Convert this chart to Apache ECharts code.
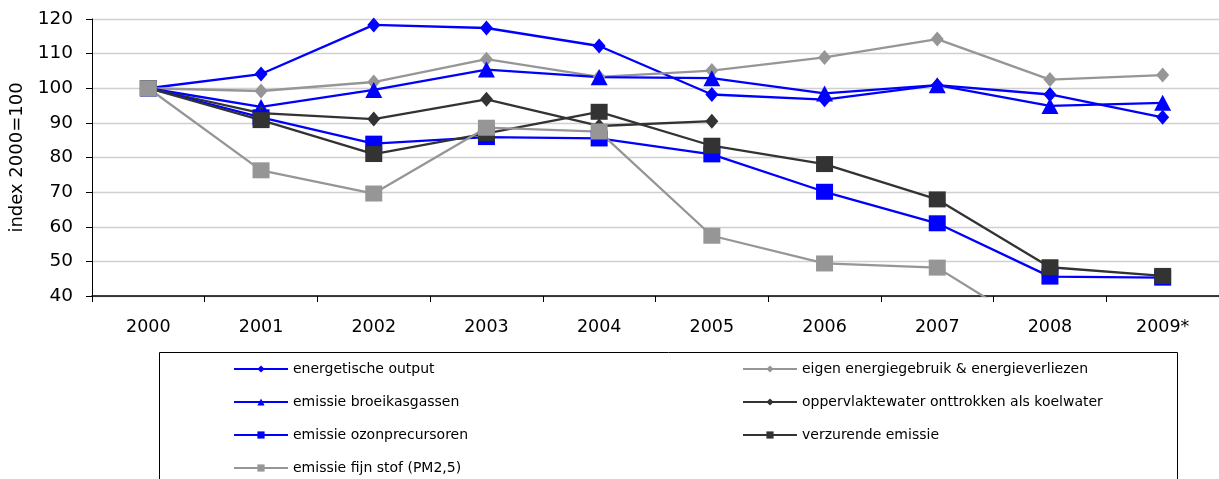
<!DOCTYPE html>
<html>
<head>
<meta charset="utf-8">
<script src="https://cdn.jsdelivr.net/npm/echarts@6/dist/echarts.min.js"></script>
<style>
html,body{margin:0;padding:0;background:#fff;}
#chart{width:1219px;height:479px;}
</style>
</head>
<body>
<div id="chart"></div>
<script>
var years = ['2000','2001','2002','2003','2004','2005','2006','2007','2008','2009*'];
var yTicks = [40, 120, 10];
var energetischeOutput   = [100, 104.1, 118.3, 117.4, 112.2, 98.2, 96.7, 100.9, 98.2, 91.6];
var eigenEnergiegebruik  = [100, 99.2, 101.8, 108.4, 103.3, 105.1, 108.9, 114.2, 102.5, 103.8];
var broeikasgassen       = [100, 94.6, 99.5, 105.4, 103.2, 102.9, 98.5, 100.9, 94.9, 95.8];
var oppervlaktewater     = [100, 92.8, 91.1, 96.8, 89.1, 90.5, null, null, null, null];
var ozonprecursoren      = [100, 91.6, 84.0, 85.9, 85.5, 80.9, 70.1, 61.0, 45.6, 45.3];
var verzurendeEmissie    = [100, 90.8, 81.0, 87.0, 93.2, 83.4, 78.1, 67.9, 48.3, 45.8];
var fijnStof             = [100, 76.3, 69.6, 88.6, 87.5, 57.4, 49.4, 48.2, 28.0, 27.0];
var seriesNames = [
  'energetische output',
  'eigen energiegebruik & energieverliezen',
  'emissie broeikasgassen',
  'oppervlaktewater onttrokken als koelwater',
  'emissie ozonprecursoren',
  'verzurende emissie',
  'emissie fijn stof (PM2,5)'
];

var BLUE = '#0000ff', GRAY = '#969696', DARK = '#333333';
var FONT = 'DejaVu Sans';

function mk(name, data, color, symbol, size) {
  return {
    name: name, type: 'line', data: data,
    symbol: symbol, symbolSize: size, showSymbol: true,
    connectNulls: false, clip: true,
    lineStyle: { color: color, width: 2.3 },
    itemStyle: { color: color, borderWidth: 0 },
    emphasis: { disabled: true },
    animation: false
  };
}

var legendCommon = {
  orient: 'vertical', top: 361, itemGap: 17, padding: 0,
  height: 200,
  itemWidth: 54, itemHeight: 9,
  textStyle: { color: '#000', fontSize: 14, fontFamily: FONT, lineHeight: 16 },
  selectedMode: false
};

var chart = echarts.init(document.getElementById('chart'), null, { renderer: 'canvas' });
chart.setOption({
  animation: false,
  backgroundColor: '#ffffff',
  textStyle: { fontFamily: FONT },
  grid: { left: 92, top: 19, right: -2, bottom: 183, containLabel: false },
  xAxis: {
    type: 'category', data: years, boundaryGap: true,
    axisLine: { lineStyle: { color: '#000', width: 1.5 } },
    axisTick: { show: true, length: 6, alignWithLabel: false, lineStyle: { color: '#000' } },
    axisLabel: { color: '#000', fontSize: 17.5, fontFamily: FONT, margin: 22, interval: 0 },
    splitLine: { show: false }
  },
  yAxis: {
    type: 'value', min: yTicks[0], max: yTicks[1], interval: yTicks[2],
    name: 'index 2000=100', nameLocation: 'middle', nameRotate: 90, nameGap: 64,
    nameTextStyle: { color: '#000', fontSize: 18, fontFamily: FONT },
    axisLine: { show: true, lineStyle: { color: '#000', width: 1 } },
    axisTick: { show: true, length: 6, lineStyle: { color: '#000' } },
    axisLabel: { color: '#000', fontSize: 18.5, fontFamily: FONT, margin: 19 },
    splitLine: { show: true, lineStyle: { color: '#d0d0d0', width: 1.3 } }
  },
  legend: [
    Object.assign({}, legendCommon, {
      left: 233,
      data: [seriesNames[0], seriesNames[2], seriesNames[4], seriesNames[6]]
    }),
    Object.assign({}, legendCommon, {
      left: 742,
      data: [seriesNames[1], seriesNames[3], seriesNames[5]]
    })
  ],
  graphic: [{
    type: 'rect', silent: true,
    shape: { x: 159.5, y: 352.5, width: 1018, height: 140 },
    style: { fill: 'none', stroke: '#000', lineWidth: 1 }
  }],
  series: [
    mk(seriesNames[0], energetischeOutput, BLUE, 'diamond', [13, 15]),
    mk(seriesNames[1], eigenEnergiegebruik, GRAY, 'diamond', [13, 15]),
    mk(seriesNames[2], broeikasgassen, BLUE, 'triangle', [17, 16]),
    mk(seriesNames[3], oppervlaktewater, DARK, 'diamond', [13, 15]),
    mk(seriesNames[4], ozonprecursoren, BLUE, 'rect', [17, 16]),
    mk(seriesNames[5], verzurendeEmissie, DARK, 'rect', [17, 16]),
    mk(seriesNames[6], fijnStof, GRAY, 'rect', [17, 16])
  ]
});
</script>
</body>
</html>
